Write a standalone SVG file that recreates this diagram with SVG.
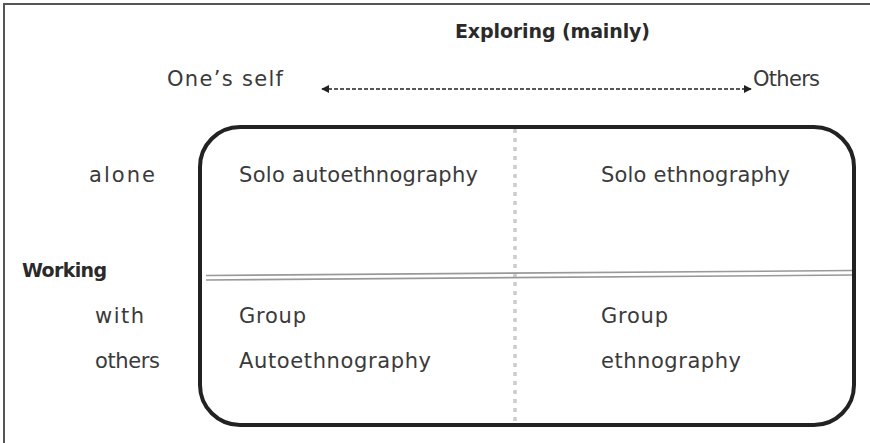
<svg xmlns="http://www.w3.org/2000/svg" width="870" height="443" viewBox="0 0 870 443">
<defs>
<style>
.t{font-family:"DejaVu Sans","Liberation Sans",Arial,sans-serif;font-size:21px;fill:#3a3a3a}
.b{font-weight:bold;font-size:19px;fill:#2a2a2a}
.dbl{stroke:#999;stroke-width:1.6;fill:none}
</style>
<marker id="ah" viewBox="0 0 10 10" refX="9" refY="5" markerWidth="8" markerHeight="8" orient="auto-start-reverse" markerUnits="userSpaceOnUse">
<path d="M0,0 L10,5 L0,10 Z" fill="#222"/>
</marker>
</defs>
<rect width="870" height="443" fill="#fff"/>
<path d="M4,443 V4 H870" fill="none" stroke="#555" stroke-width="2"/>
<g id="header">
<text class="t b" x="455" y="38" textLength="195">Exploring (mainly)</text>
<text class="t" x="167" y="86" textLength="116">One’s self</text>
<text class="t" x="753" y="86" textLength="67">Others</text>
</g>
<g id="connectors">
<line x1="322" y1="89" x2="751" y2="89" stroke="#222" stroke-width="1.5" stroke-dasharray="4,2" marker-start="url(#ah)" marker-end="url(#ah)"/>
</g>
<g id="matrix">
<rect x="200" y="127" width="654" height="298" rx="40" ry="40" fill="none" stroke="#222" stroke-width="4"/>
<line x1="515" y1="129" x2="515" y2="424" stroke="#ccc" stroke-width="3.5" stroke-dasharray="4,5"/>
<line class="dbl" x1="206" y1="275.5" x2="852" y2="270.5"/>
<line class="dbl" x1="206" y1="280" x2="852" y2="275"/>
</g>
<g id="rows">
<text class="t" x="89" y="182" textLength="66">alone</text>
<text class="t b" x="22" y="277" textLength="85">Working</text>
<text class="t" x="95" y="323" textLength="49">with</text>
<text class="t" x="95" y="368" textLength="65">others</text>
</g>
<g id="cell-solo-auto"><text class="t" x="239" y="182" textLength="239">Solo autoethnography</text></g>
<g id="cell-solo-ethno"><text class="t" x="601" y="182" textLength="189">Solo ethnography</text></g>
<g id="cell-group-auto"><text class="t" x="239" y="323" textLength="67">Group</text><text class="t" x="239" y="368" textLength="192">Autoethnography</text></g>
<g id="cell-group-ethno"><text class="t" x="601" y="323" textLength="67">Group</text><text class="t" x="601" y="368" textLength="140">ethnography</text></g>
</svg>
